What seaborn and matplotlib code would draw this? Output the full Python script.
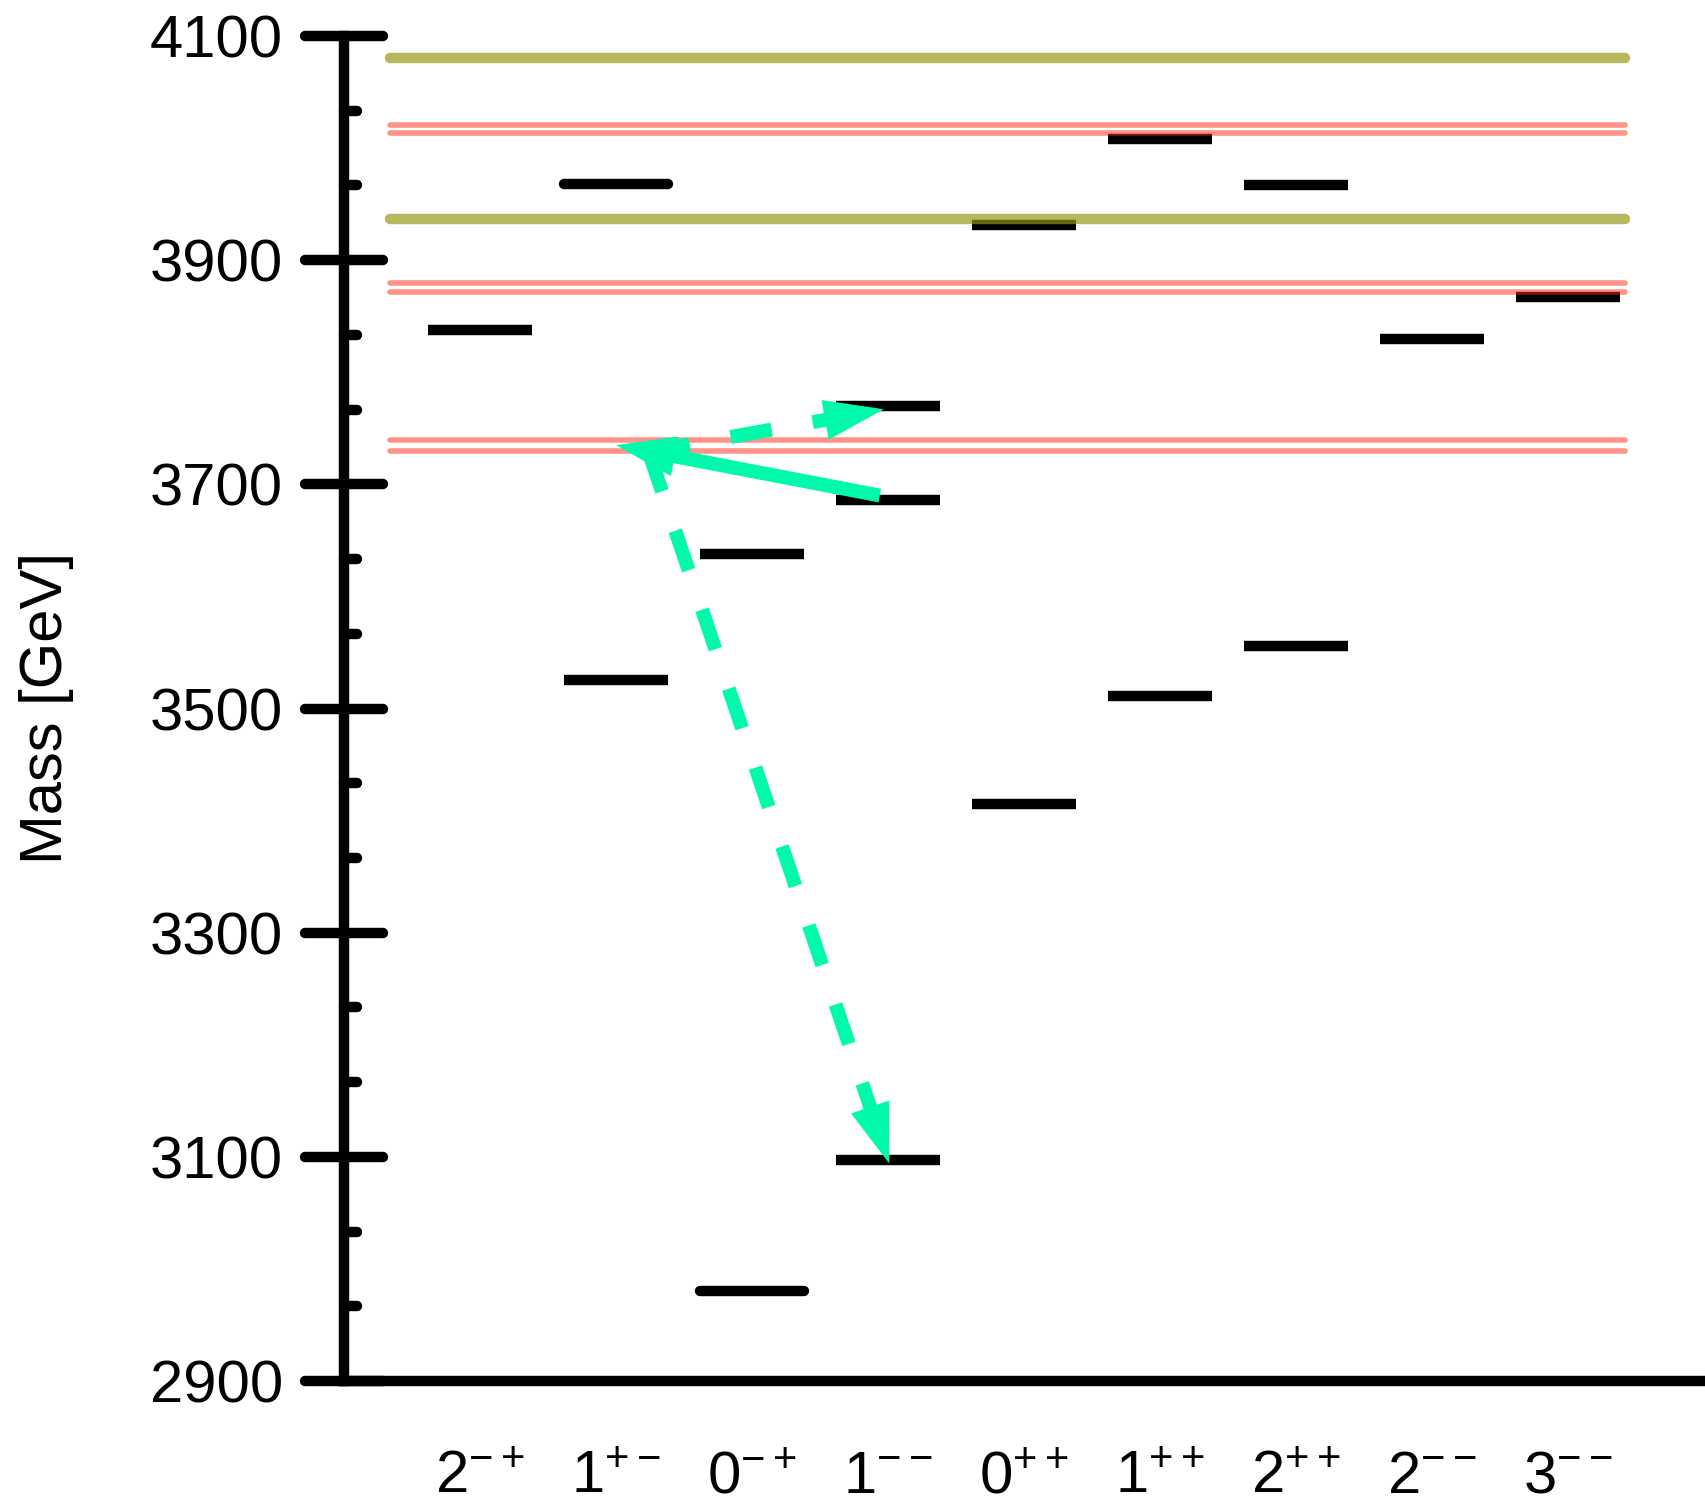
import numpy as np
import pandas as pd
import matplotlib
matplotlib.use("Agg")
import matplotlib.pyplot as plt
import seaborn as sns
from matplotlib.markers import MarkerStyle
from matplotlib.ticker import AutoMinorLocator
import matplotlib.lines as mlines

# ---------------- data ----------------
jpc_labels = ["2^{-+}", "1^{+-}", "0^{-+}", "1^{--}", "0^{++}",
              "1^{++}", "2^{++}", "2^{--}", "3^{--}"]
# masses per J^PC column
level_masses = [
    [3838],
    [3525, 3968],
    [2980, 3638],
    [3097, 3686, 3770],
    [3415, 3931],
    [3511, 4008],
    [3556, 3967],
    [3830],
    [3867],
]
# levels drawn with rounded ends
round_levels = [(1, 3968), (2, 2980)]

# open-charm thresholds
dd_thresholds = [3729.7, 3739.3, 3871.7, 3879.9, 4013.7, 4020.5]
dsds_thresholds = [3936.7, 4080.5]

# transitions (column position, mass)
arrow_start_x = [2.94, 1.24, 1.24]
arrow_start_m = [3690, 3729, 3729]
arrow_end_x = [1.0, 2.97, 3.01]
arrow_end_m = [3735, 3767, 3094]
arrow_dashed = [False, True, True]

y_ticks = [2900, 3100, 3300, 3500, 3700, 3900, 4100]

# ---------------- style ----------------
sns.set_style("white")
plt.rcParams["font.family"] = ["Liberation Sans", "DejaVu Sans"]
plt.rcParams["mathtext.fontset"] = "custom"
plt.rcParams["mathtext.rm"] = "Liberation Sans"
plt.rcParams["mathtext.sf"] = "Liberation Sans"
plt.rcParams["mathtext.it"] = "Liberation Sans:italic"
plt.rcParams["mathtext.bf"] = "Liberation Sans:bold"
for k in ["text.color", "axes.labelcolor", "xtick.color", "ytick.color", "axes.edgecolor"]:
    plt.rcParams[k] = "black"

green = "#00F9AB"
pink = (1.0, 0.16, 0.08)
olive = (0.59, 0.59, 0.08)

fig = plt.figure(figsize=(17.06, 15.02), dpi=100)
ax = fig.add_axes([344 / 1706, 121 / 1502, 1362 / 1706, 1345 / 1502])

half_w = 0.379

# ---------------- levels ----------------
rows_butt, rows_round = [], []
lid = 0
for ci, masses in enumerate(level_masses):
    for m in masses:
        target = rows_round if (ci, m) in round_levels else rows_butt
        target.append({"x": ci - half_w, "mass": m, "level": lid})
        target.append({"x": ci + half_w, "mass": m, "level": lid})
        lid += 1
df_butt = pd.DataFrame(rows_butt)
df_round = pd.DataFrame(rows_round)

sns.lineplot(data=df_butt, x="x", y="mass", units="level", estimator=None, sort=False,
             color="black", lw=7.5, solid_capstyle="butt", ax=ax, legend=False, zorder=2)
sns.lineplot(data=df_round, x="x", y="mass", units="level", estimator=None, sort=False,
             color="black", lw=7.5, solid_capstyle="round", ax=ax, legend=False, zorder=2)

# ---------------- thresholds ----------------
x_lo, x_hi = -0.66, 8.42
df_dd = pd.DataFrame([{"x": xx, "mass": m, "level": i}
                      for i, m in enumerate(dd_thresholds) for xx in (x_lo, x_hi)])
df_ds = pd.DataFrame([{"x": xx, "mass": m, "level": i}
                      for i, m in enumerate(dsds_thresholds) for xx in (x_lo, x_hi)])
sns.lineplot(data=df_dd, x="x", y="mass", units="level", estimator=None, sort=False,
             color=pink, alpha=0.5, lw=4, solid_capstyle="round", ax=ax, legend=False, zorder=3)
sns.lineplot(data=df_ds, x="x", y="mass", units="level", estimator=None, sort=False,
             color=olive, alpha=0.68, lw=7.5, solid_capstyle="round", ax=ax, legend=False, zorder=3)

# ---------------- arrows ----------------
for sx, sm, ex, em, dashed in zip(arrow_start_x, arrow_start_m, arrow_end_x, arrow_end_m, arrow_dashed):
    ax.annotate("", xy=(ex, em), xytext=(sx, sm),
                arrowprops=dict(arrowstyle="-", color=green, lw=10,
                                linestyle=(0, (3, 3)) if dashed else "-",
                                shrinkA=0, shrinkB=22, capstyle="butt"),
                zorder=5)
    ax.annotate("", xy=(ex, em), xytext=(sx, sm),
                arrowprops=dict(arrowstyle="-|>,head_length=43,head_width=14.5",
                                mutation_scale=1, facecolor=green, edgecolor="none", lw=0,
                                shrinkA=0, shrinkB=0),
                zorder=6)

# ---------------- axes ----------------
ax.set_xlim(-1, 9.015)
ax.set_ylim(2900, 4100)
ax.set_xlabel("")
ax.set_ylabel("")
ax.set_xticks(range(len(jpc_labels)))
ax.set_xticklabels([f"${s}$" for s in jpc_labels])
ax.set_yticks(y_ticks)
ax.yaxis.set_minor_locator(AutoMinorLocator(3))

ax.tick_params(axis="x", length=0, pad=80.6, labelsize=43)
ax.tick_params(axis="y", which="major", direction="inout", length=56, width=7.5,
               pad=15.9, labelsize=43, left=True)
ax.tick_params(axis="y", which="minor", direction="in", length=9.2, width=7.5, left=True)
for lbl in ax.get_xticklabels():
    lbl.set_va("baseline")

for t in ax.yaxis.get_major_ticks():
    t.tick1line.set_marker(MarkerStyle("_", capstyle="round"))
for t in ax.yaxis.get_minor_ticks():
    t.tick1line.set_marker(MarkerStyle(mlines.TICKRIGHT, capstyle="round"))

for s in ["top", "right"]:
    ax.spines[s].set_visible(False)
for s in ["left", "bottom"]:
    ax.spines[s].set_linewidth(7.5)
    ax.spines[s].set_color("black")
ax.grid(False)

fig.text(0.027, 0.5286, "Mass [GeV]", rotation=90, ha="center", va="center", fontsize=43)

fig.savefig("out.png", dpi=100)
